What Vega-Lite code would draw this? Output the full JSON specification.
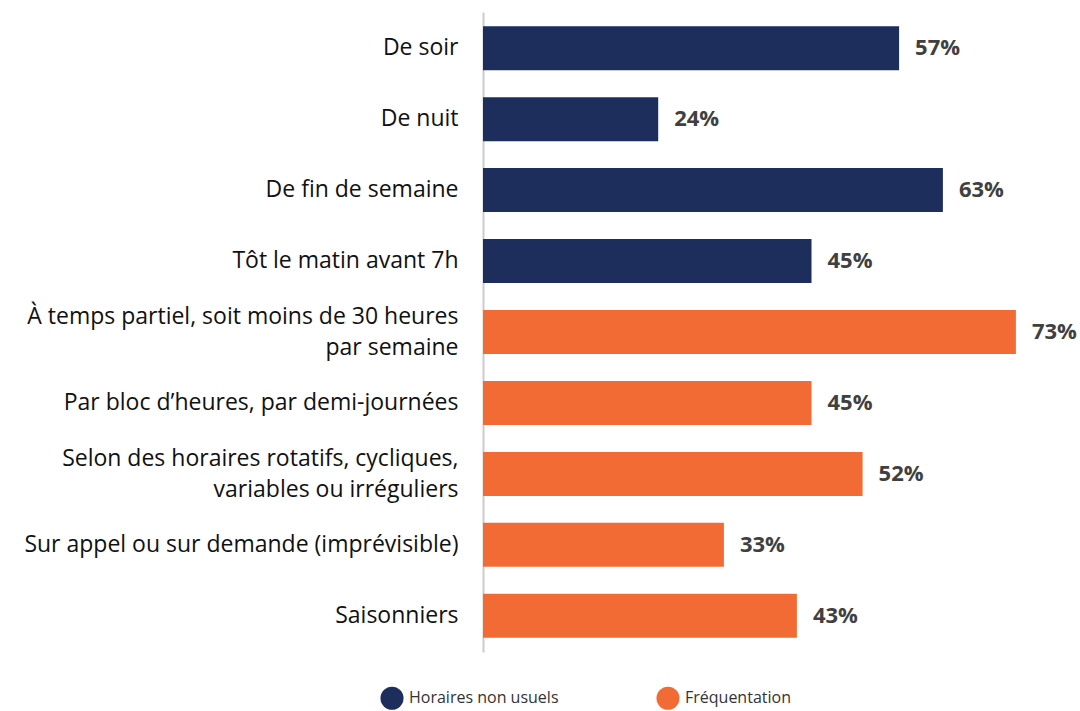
{
  "$schema": "https://vega.github.io/schema/vega-lite/v6.json",
  "width": 584,
  "height": 640,
  "autosize": {"type": "none"},
  "padding": {"left": 483, "top": 12, "right": 13, "bottom": 59},
  "background": "white",
  "config": {"view": {"stroke": null}, "font": "Open Sans"},
  "data": {
    "values": [
      {"cat": "De soir", "val": 0.57, "grp": "Horaires non usuels"},
      {"cat": "De nuit", "val": 0.24, "grp": "Horaires non usuels"},
      {"cat": "De fin de semaine", "val": 0.63, "grp": "Horaires non usuels"},
      {"cat": "Tôt le matin avant 7h", "val": 0.45, "grp": "Horaires non usuels"},
      {"cat": "À temps partiel, soit moins de 30 heures|par semaine", "val": 0.73, "grp": "Fréquentation"},
      {"cat": "Par bloc d’heures, par demi-journées", "val": 0.45, "grp": "Fréquentation"},
      {"cat": "Selon des horaires rotatifs, cycliques,|variables ou irréguliers", "val": 0.52, "grp": "Fréquentation"},
      {"cat": "Sur appel ou sur demande (imprévisible)", "val": 0.33, "grp": "Fréquentation"},
      {"cat": "Saisonniers", "val": 0.43, "grp": "Fréquentation"}
    ]
  },
  "encoding": {
    "y": {
      "field": "cat", "type": "nominal", "sort": null, "title": null,
      "scale": {"paddingInner": 0.38, "paddingOuter": 0.2},
      "axis": {
        "labelExpr": "split(datum.label, '|')",
        "labelFontSize": 23, "labelColor": "#111111", "labelPadding": 25,
        "labelLimit": 0, "labelLineHeight": 31, "ticks": false,
        "labelOffset": {"condition": {"test": "indexof(datum.value, '|') >= 0", "value": -15}, "value": 0},
        "domainColor": "#cccccc", "domainWidth": 2, "labelFont": "Open Sans"
      }
    },
    "x": {"field": "val", "type": "quantitative", "scale": {"domain": [0, 0.8]}, "axis": null}
  },
  "layer": [
    {
      "mark": {"type": "bar"},
      "encoding": {
        "color": {
          "field": "grp", "type": "nominal",
          "scale": {"domain": ["Horaires non usuels", "Fréquentation"], "range": ["#1d2d5c", "#f26b35"]},
          "legend": {
            "title": null, "orient": "none", "direction": "horizontal",
            "legendX": -103, "legendY": 674,
            "symbolType": "circle", "symbolSize": 530, "symbolStrokeWidth": 0,
            "labelFontSize": 16, "labelColor": "#333333", "labelOffset": 5,
            "columnPadding": 97, "labelFont": "Open Sans"
          }
        }
      }
    },
    {
      "mark": {"type": "text", "align": "left", "dx": 16, "fontSize": 22, "fontWeight": "bold", "color": "#404040", "font": "Open Sans"},
      "encoding": {"text": {"field": "val", "type": "quantitative", "format": ".0%"}}
    }
  ]
}
